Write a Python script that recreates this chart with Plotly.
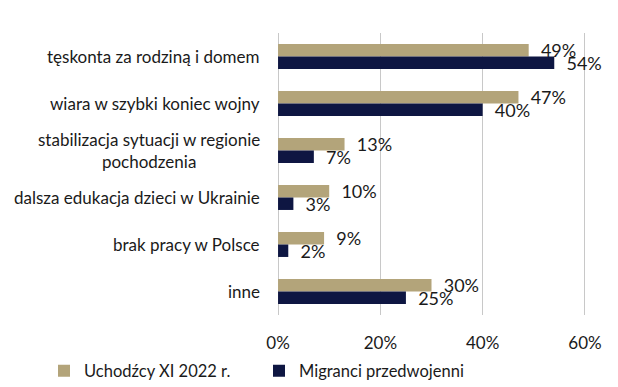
import plotly.graph_objects as go

categories = [
    "tęskonta za rodziną i domem",
    "wiara w szybki koniec wojny",
    "stabilizacja sytuacji w regionie<br>pochodzenia",
    "dalsza edukacja dzieci w Ukrainie",
    "brak pracy w Polsce",
    "inne",
]
series_names = ["Uchodźcy XI 2022 r.", "Migranci przedwojenni"]
uchodzcy = [49, 47, 13, 10, 9, 30]
migranci = [54, 40, 7, 3, 2, 25]
x_ticks = [0, 20, 40, 60]
x_tick_labels = ["0%", "20%", "40%", "60%"]

colors = ["#b3a47a", "#0e1642"]
FONT = "Lato"
TXT = "#1a1a1a"
NB = "\u00a0\u00a0"

fig = go.Figure()
for name, vals, col in zip(series_names, [uchodzcy, migranci], colors):
    fig.add_trace(go.Bar(
        y=categories, x=vals, name=name, orientation="h",
        marker=dict(color=col, line=dict(width=0)),
        text=[f"{NB}{v}%" for v in vals], textposition="outside",
        constraintext="none",
        textfont=dict(family=FONT, size=18, color=TXT),
        cliponaxis=False,
    ))

for c in categories:
    fig.add_annotation(
        x=0, xref="paper", y=c, yref="y", text=c, showarrow=False,
        xanchor="right", yanchor="middle", align="center", xshift=-14,
        font=dict(family=FONT, size=17, color=TXT),
    )

L, T, PW, PH = 268, 25, 311, 282
W, H = 610, 379

fig.update_layout(
    width=W, height=H,
    margin=dict(l=L, r=W - L - PW, t=T, b=H - T - PH, autoexpand=False),
    barmode="group", bargap=0.47, bargroupgap=0,
    plot_bgcolor="white", paper_bgcolor="white",
    showlegend=True,
    legend=dict(
        orientation="h", xref="paper", yref="paper",
        x=(36 - L) / PW, y=(T + PH - 363) / PH,
        xanchor="left", yanchor="middle",
        font=dict(family=FONT, size=16.5, color=TXT),
        entrywidth=170, entrywidthmode="pixels",
        traceorder="normal",
    ),
    xaxis=dict(
        range=[-0.4, 60.4], tickvals=x_ticks, ticktext=x_tick_labels,
        showgrid=True, gridcolor="#c8c8c8", gridwidth=1,
        zeroline=False, showline=False, ticks="",
        tickfont=dict(family=FONT, size=17, color=TXT),
        ticklabelstandoff=16,
    ),
    yaxis=dict(
        autorange="reversed", showticklabels=False, showgrid=False,
        zeroline=False, showline=False, ticks="",
    ),
)

fig.write_html("out.html")
